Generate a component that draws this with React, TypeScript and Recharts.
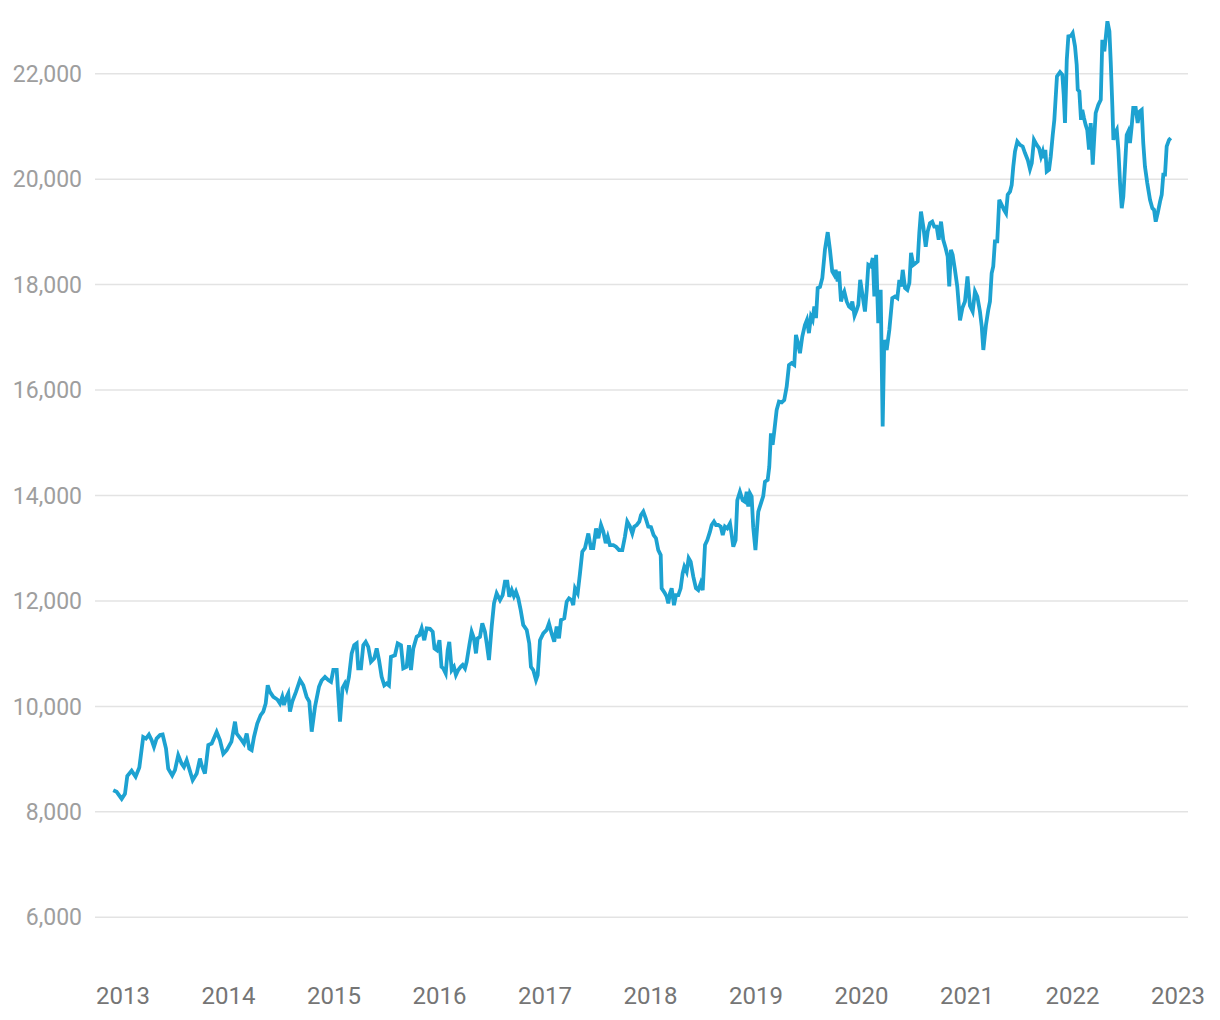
import { LineChart, Line, XAxis, YAxis, ReferenceLine } from "recharts";

// decimal year of each reading
const dates = [
  2012.908, 2012.94, 2012.988, 2013.019, 2013.041, 2013.082, 2013.12, 2013.155, 2013.192, 2013.218,
  2013.246, 2013.272, 2013.294, 2013.319, 2013.351, 2013.376, 2013.408, 2013.429, 2013.467, 2013.493,
  2013.524, 2013.556, 2013.578, 2013.604, 2013.628, 2013.661, 2013.699, 2013.73, 2013.746, 2013.777,
  2013.809, 2013.841, 2013.888, 2013.919, 2013.951, 2013.983, 2014.028, 2014.062, 2014.078, 2014.102,
  2014.125, 2014.147, 2014.173, 2014.197, 2014.22, 2014.242, 2014.273, 2014.305, 2014.33, 2014.353,
  2014.372, 2014.393, 2014.425, 2014.463, 2014.488, 2014.51, 2014.526, 2014.545, 2014.567, 2014.583,
  2014.605, 2014.64, 2014.678, 2014.709, 2014.741, 2014.766, 2014.789, 2014.82, 2014.858, 2014.883,
  2014.915, 2014.946, 2014.972, 2014.994, 2015.026, 2015.057, 2015.081, 2015.104, 2015.12, 2015.142,
  2015.168, 2015.192, 2015.215, 2015.23, 2015.256, 2015.278, 2015.301, 2015.325, 2015.351, 2015.382,
  2015.405, 2015.427, 2015.452, 2015.477, 2015.5, 2015.521, 2015.54, 2015.578, 2015.604, 2015.635,
  2015.657, 2015.689, 2015.711, 2015.73, 2015.752, 2015.784, 2015.809, 2015.831, 2015.856, 2015.879,
  2015.91, 2015.936, 2015.953, 2015.976, 2016.0, 2016.019, 2016.036, 2016.059, 2016.078, 2016.093,
  2016.116, 2016.137, 2016.156, 2016.178, 2016.201, 2016.22, 2016.242, 2016.258, 2016.283, 2016.305,
  2016.327, 2016.346, 2016.362, 2016.384, 2016.406, 2016.431, 2016.448, 2016.469, 2016.495, 2016.517,
  2016.542, 2016.574, 2016.599, 2016.621, 2016.643, 2016.662, 2016.685, 2016.706, 2016.725, 2016.747,
  2016.77, 2016.794, 2016.827, 2016.851, 2016.867, 2016.889, 2016.915, 2016.931, 2016.953, 2016.984,
  2017.016, 2017.038, 2017.063, 2017.088, 2017.111, 2017.133, 2017.152, 2017.183, 2017.206, 2017.228,
  2017.253, 2017.268, 2017.285, 2017.31, 2017.332, 2017.354, 2017.379, 2017.411, 2017.436, 2017.458,
  2017.484, 2017.506, 2017.531, 2017.553, 2017.576, 2017.595, 2017.616, 2017.648, 2017.673, 2017.702,
  2017.733, 2017.758, 2017.78, 2017.806, 2017.828, 2017.846, 2017.869, 2017.894, 2017.91, 2017.932,
  2017.955, 2017.979, 2018.005, 2018.03, 2018.052, 2018.074, 2018.097, 2018.106, 2018.137, 2018.154,
  2018.169, 2018.185, 2018.201, 2018.223, 2018.242, 2018.264, 2018.286, 2018.305, 2018.321, 2018.343,
  2018.362, 2018.381, 2018.406, 2018.431, 2018.453, 2018.476, 2018.495, 2018.517, 2018.539, 2018.564,
  2018.58, 2018.602, 2018.621, 2018.643, 2018.666, 2018.685, 2018.706, 2018.728, 2018.754, 2018.77,
  2018.785, 2018.807, 2018.823, 2018.848, 2018.874, 2018.896, 2018.912, 2018.927, 2018.943, 2018.959,
  2018.974, 2018.995, 2019.022, 2019.047, 2019.069, 2019.085, 2019.111, 2019.126, 2019.142, 2019.158,
  2019.173, 2019.196, 2019.218, 2019.244, 2019.268, 2019.291, 2019.313, 2019.338, 2019.363, 2019.379,
  2019.395, 2019.417, 2019.439, 2019.464, 2019.483, 2019.502, 2019.521, 2019.537, 2019.553, 2019.569,
  2019.585, 2019.607, 2019.629, 2019.654, 2019.68, 2019.701, 2019.723, 2019.742, 2019.755, 2019.774,
  2019.787, 2019.806, 2019.822, 2019.837, 2019.86, 2019.882, 2019.9, 2019.913, 2019.934, 2019.955,
  2019.97, 2019.988, 2020.01, 2020.033, 2020.05, 2020.065, 2020.088, 2020.107, 2020.122, 2020.139,
  2020.159, 2020.182, 2020.201, 2020.216, 2020.239, 2020.264, 2020.292, 2020.318, 2020.34, 2020.359,
  2020.375, 2020.391, 2020.413, 2020.435, 2020.454, 2020.47, 2020.492, 2020.515, 2020.533, 2020.548,
  2020.564, 2020.586, 2020.609, 2020.628, 2020.649, 2020.671, 2020.69, 2020.713, 2020.732, 2020.754,
  2020.775, 2020.798, 2020.817, 2020.832, 2020.848, 2020.864, 2020.886, 2020.908, 2020.934, 2020.957,
  2020.981, 2021.005, 2021.028, 2021.054, 2021.076, 2021.098, 2021.123, 2021.14, 2021.155, 2021.18,
  2021.202, 2021.218, 2021.234, 2021.249, 2021.265, 2021.287, 2021.306, 2021.329, 2021.351, 2021.37,
  2021.386, 2021.408, 2021.424, 2021.439, 2021.455, 2021.477, 2021.502, 2021.528, 2021.55, 2021.576,
  2021.597, 2021.614, 2021.635, 2021.661, 2021.683, 2021.702, 2021.718, 2021.73, 2021.743, 2021.756,
  2021.778, 2021.794, 2021.813, 2021.828, 2021.853, 2021.882, 2021.904, 2021.917, 2021.929, 2021.946,
  2021.961, 2021.986, 2022.002, 2022.024, 2022.04, 2022.05, 2022.065, 2022.081, 2022.093, 2022.109,
  2022.125, 2022.14, 2022.157, 2022.173, 2022.192, 2022.207, 2022.22, 2022.245, 2022.268, 2022.283,
  2022.302, 2022.315, 2022.331, 2022.35, 2022.363, 2022.378, 2022.388, 2022.404, 2022.42, 2022.435,
  2022.451, 2022.467, 2022.482, 2022.498, 2022.514, 2022.529, 2022.545, 2022.561, 2022.576, 2022.599,
  2022.618, 2022.637, 2022.656, 2022.671, 2022.687, 2022.709, 2022.735, 2022.757, 2022.773, 2022.789,
  2022.808, 2022.83, 2022.846, 2022.861, 2022.877, 2022.893, 2022.915, 2022.931,
];

const values = [
  8410, 8380, 8245, 8340, 8680, 8780, 8665, 8840, 9420, 9390,
  9465, 9360, 9230, 9390, 9455, 9465, 9200, 8820, 8690, 8790,
  9075, 8915, 8850, 8980, 8820, 8600, 8725, 9010, 8885, 8725,
  9265, 9295, 9515, 9360, 9100, 9170, 9330, 9710, 9485, 9420,
  9360, 9295, 9485, 9200, 9170, 9420, 9675, 9835, 9900, 10055,
  10400, 10275, 10180, 10130, 10055, 10180, 10025, 10150, 10245, 9900,
  10090, 10275, 10500, 10400, 10180, 10090, 9520, 9990, 10370, 10490,
  10560, 10500, 10465, 10690, 10690, 9710, 10350, 10435, 10340, 10560,
  11005, 11160, 11195, 10720, 10720, 11160, 11225, 11130, 10845, 10910,
  11100, 10880, 10560, 10400, 10435, 10400, 10940, 10970, 11195, 11160,
  10720, 10750, 11160, 10690, 11100, 11320, 11350, 11480, 11255, 11480,
  11470, 11415, 11100, 11065, 11255, 10750, 10720, 10625, 11065, 11225,
  10690, 10750, 10595, 10690, 10750, 10785, 10720, 10845, 11160, 11415,
  11290, 11005, 11290, 11320, 11575, 11415, 11195, 10880, 11515, 11955,
  12145, 12015, 12110, 12365, 12365, 12080, 12205, 12090, 12175, 12050,
  11825, 11545, 11450, 11195, 10750, 10690, 10500, 10595, 11255, 11385,
  11450, 11575, 11385, 11225, 11515, 11290, 11640, 11670, 11985, 12050,
  12015, 11920, 12240, 12145, 12525, 12935, 13000, 13280, 13000, 13000,
  13375, 13190, 13440, 13315, 13095, 13220, 13060, 13060, 13030, 12965,
  12965, 13220, 13505, 13410, 13280, 13410, 13440, 13505, 13630, 13695,
  13565, 13410, 13400, 13250, 13190, 12965, 12870, 12240, 12145, 12080,
  11955, 12145, 12240, 11920, 12110, 12110, 12240, 12525, 12650, 12555,
  12810, 12745, 12460, 12240, 12205, 12335, 12205, 13060, 13155, 13315,
  13440, 13505, 13440, 13440, 13410, 13250, 13410, 13375, 13470, 13250,
  13030, 13155, 13910, 14070, 13910, 13880, 14070, 13790, 14040, 13980,
  13400, 12965, 13695, 13850, 13990, 14260, 14295, 14545, 15180, 14960,
  15210, 15620, 15780, 15765, 15810, 16065, 16475, 16510, 16475, 17045,
  16920, 16700, 17015, 17235, 17330, 17080, 17395, 17330, 17585, 17365,
  17935, 17955, 18125, 18665, 18995, 18665, 18250, 18185, 18280, 18060,
  18250, 17680, 17805, 17870, 17680, 17585, 17555, 17680, 17410, 17520,
  17615, 18090, 17800, 17490, 17900, 18375, 18345, 18505, 17775, 18565,
  17270, 17900, 15310, 16950, 16760, 17140, 17745, 17775, 17745, 18090,
  17965, 18280, 17935, 17900, 18030, 18600, 18375, 18410, 18440, 18975,
  19385, 19100, 18720, 19010, 19165, 19195, 19100, 19100, 18850, 19195,
  18850, 18690, 18530, 17965, 18660, 18565, 18280, 17965, 17320, 17560,
  17680, 18155, 17600, 17490, 17870, 17775, 17490, 17205, 16760, 17235,
  17520, 17680, 18215, 18345, 18820, 18820, 19610, 19515, 19420, 19355,
  19705, 19765, 19890, 20240, 20525, 20715, 20650, 20620, 20495, 20365,
  20190, 20305, 20745, 20650, 20590, 20430, 20525, 20400, 20555, 20145,
  20180, 20430, 20840, 21125, 21950, 22030, 21980, 21600, 21065, 22265,
  22710, 22720, 22770, 22520, 22170, 21695, 21665, 21125, 21315, 21160,
  21030, 20935, 20560, 21065, 20275, 20810, 21255, 21410, 21505, 22645,
  22425, 22680, 22995, 22805, 22205, 21380, 20745, 20875, 20935, 20560,
  19925, 19450, 19670, 20240, 20840, 20905, 20685, 21000, 21350, 21350,
  21065, 21285, 21315, 20685, 20240, 19925, 19610, 19450, 19420, 19195,
  19355, 19575, 19705, 20085, 20085, 20620, 20745, 20780,
];

const yTicks = [6000, 8000, 10000, 12000, 14000, 16000, 18000, 20000, 22000];
const xTicks = [2013, 2014, 2015, 2016, 2017, 2018, 2019, 2020, 2021, 2022, 2023];

const data = dates.map((t, i) => ({ t, v: values[i] }));

export default function App() {
  return (
    <div style={{ width: 1220, height: 1020, background: "#fff" }}>
      <style>{`body{margin:0}`}</style>
      <LineChart width={1220} height={1020} data={data} margin={{ top: 21, right: 32, bottom: 0, left: 0 }}>
        <XAxis
          dataKey="t"
          type="number"
          domain={[2012.735, 2023.095]}
          ticks={xTicks}
          allowDataOverflow
          axisLine={false}
          tickLine={false}
          tickSize={0}
          tickMargin={17}
          height={50}
          tick={{ fill: "#757575", fontSize: 24, fontFamily: "Roboto" }}
        />
        <YAxis
          type="number"
          domain={[5000, 23000]}
          ticks={yTicks}
          allowDataOverflow
          axisLine={false}
          tickLine={false}
          tickSize={0}
          tickMargin={13}
          width={95}
          tickFormatter={(v: number) => v.toLocaleString("en-US")}
          tick={{ fill: "#9e9e9e", fontSize: 23, fontFamily: "Roboto" }}
        />
        {/* gridlines only at the labelled values */}
        {yTicks.map((t) => (
          <ReferenceLine key={t} y={t} stroke="#e3e3e3" strokeWidth={1.5} />
        ))}
        <Line
          type="linear"
          dataKey="v"
          stroke="#1da2d1"
          strokeWidth={3.8}
          dot={false}
          isAnimationActive={false}
        />
      </LineChart>
    </div>
  );
}
